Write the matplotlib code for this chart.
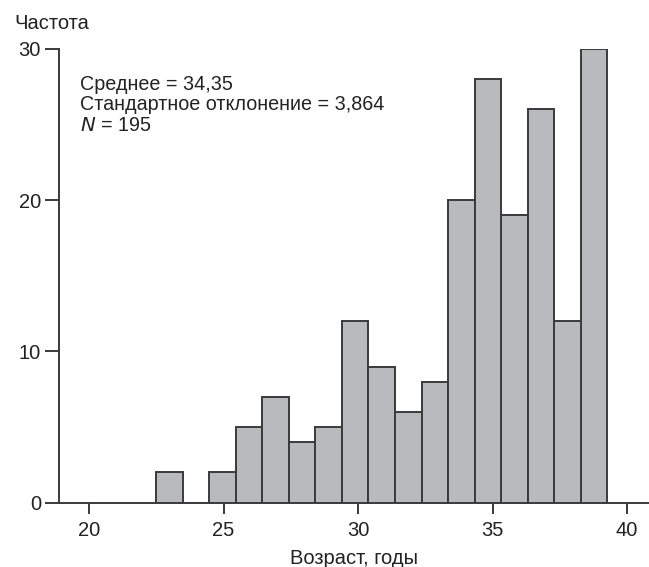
import numpy as np
import matplotlib.pyplot as plt

plt.rcParams['font.family'] = ['Liberation Sans', 'DejaVu Sans']

# histogram of age: bin left edges and counts
bin_start = 22.5
bin_width = 0.986
counts = [2, 0, 2, 5, 7, 4, 5, 12, 9, 6, 8, 20, 28, 19, 26, 12, 30]
lefts = bin_start + bin_width * np.arange(len(counts))

stats_lines = ["Среднее = 34,35", "Стандартное отклонение = 3,864", "$N$ = 195"]
xticks = [20, 25, 30, 35, 40]
yticks = [0, 10, 20, 30]

fs = 14.5
fig = plt.figure(figsize=(6.49, 5.67), dpi=100)
ax = fig.add_axes([0.091, 0.1134, 0.909, 0.8002])

ax.bar(lefts, counts, width=bin_width, align='edge',
       color='#b9babe', edgecolor='#3a3a3a', linewidth=1.4)

ax.set_xlim(18.88, 40.82)
ax.set_ylim(0, 30)
ax.set_xticks(xticks)
ax.set_yticks(yticks)
ax.tick_params(axis='both', labelsize=fs, width=1.4, color='#3a3a3a',
               labelcolor='#222222')
ax.tick_params(axis='x', length=8, pad=5)
ax.tick_params(axis='y', length=10, pad=3)

for s in ['top', 'right']:
    ax.spines[s].set_visible(False)
for s in ['left', 'bottom']:
    ax.spines[s].set_linewidth(1.4)
    ax.spines[s].set_color('#3a3a3a')

ax.set_xlabel("Возраст, годы", fontsize=fs, color='#222222', labelpad=7)
fig.text(0.022, 0.958, "Частота", fontsize=fs, color='#222222', va='center')

ax.text(0.035, 0.943, "\n".join(stats_lines), transform=ax.transAxes,
        fontsize=14.2, color='#222222', va='top', linespacing=1.1)

fig.savefig("out.png", dpi=100)
